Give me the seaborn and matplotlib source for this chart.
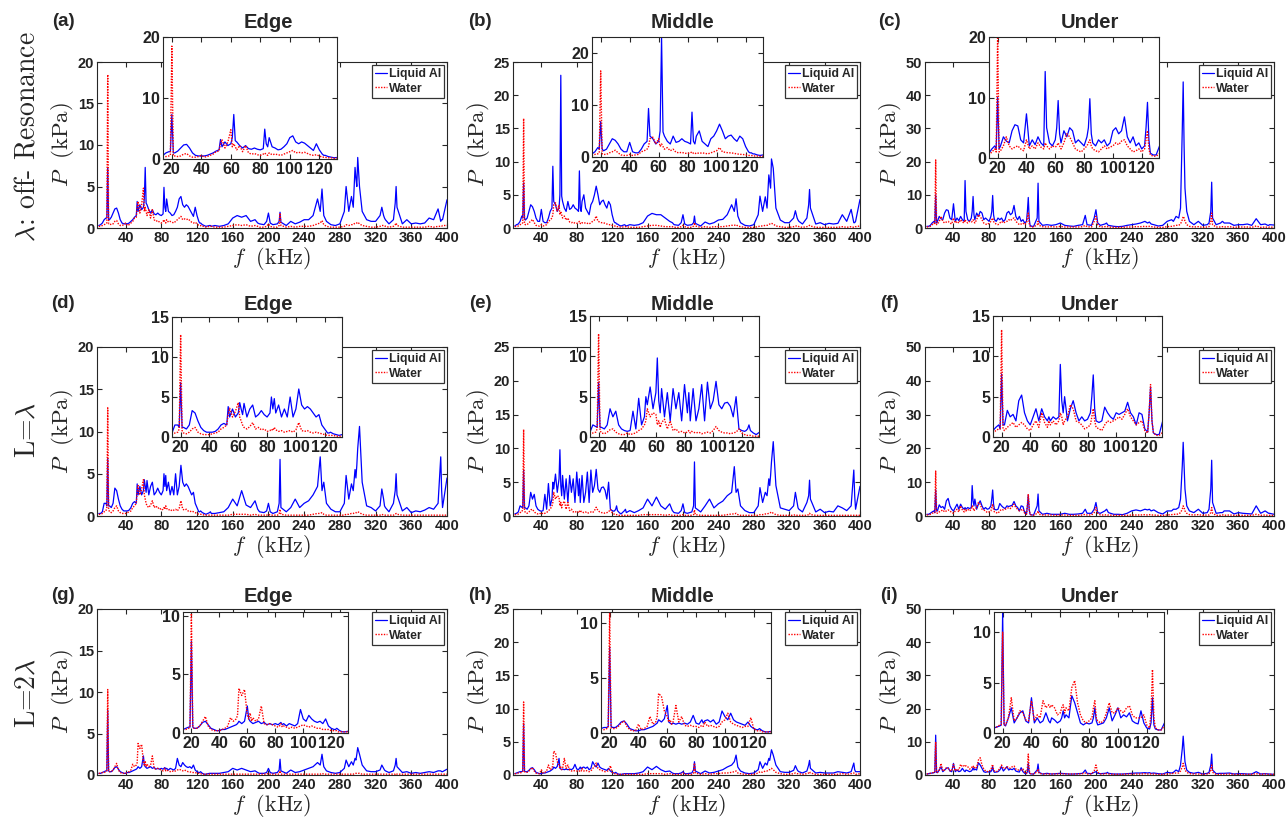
import matplotlib
matplotlib.use("Agg")
import matplotlib.pyplot as plt
import seaborn as sns

# frequency grid (kHz): dense where the inset zooms in, extra points at sharp peaks
FREQ = [10, 12, 14, 16, 18, 19, 20, 21, 22, 24,
        26, 28, 30, 32, 34, 36, 38, 40, 42, 44,
        46, 48, 50, 52, 53, 54, 56, 58, 60, 61,
        62, 63, 64, 66, 68, 70, 72, 74, 76, 78,
        80, 82, 83, 84, 85, 86, 88, 90, 92, 94,
        96, 98, 100, 102, 104, 106, 108, 110, 112, 114,
        116, 118, 120, 122, 123, 124, 125, 126, 128, 130,
        134, 135, 136, 140, 145, 150, 155, 160, 165, 170,
        175, 180, 185, 188, 190, 195, 198, 200, 202, 205,
        210, 212, 213, 214, 220, 225, 230, 235, 240, 245,
        250, 255, 258, 260, 262, 265, 270, 275, 280, 285,
        287, 290, 293, 295, 297, 298, 299, 300, 302, 305,
        310, 315, 320, 325, 327, 329, 330, 331, 335, 340,
        342, 343, 344, 350, 355, 360, 365, 370, 375, 380,
        385, 390, 393, 394, 395, 400]

# pressure amplitude (kPa), Liquid Al / Water, panels (a)..(i)
AL_A = [0.3, 0.4, 0.6, 1.0, 1.2, 1.2, 7.3, 1.0, 1.0, 1.3,
        1.8, 2.3, 2.4, 1.8, 1.0, 0.6, 0.5, 0.5, 0.5, 0.6,
        0.8, 1.0, 1.3, 1.5, 3.2, 2.0, 2.8, 2.2, 2.5, 3.5,
        7.3, 3.0, 2.8, 2.2, 1.8, 2.2, 1.7, 1.6, 1.8, 1.6,
        1.5, 1.7, 4.9, 2.5, 2.0, 3.5, 2.0, 1.8, 1.5, 1.6,
        2.0, 2.5, 3.5, 3.8, 2.8, 2.5, 2.8, 2.6, 2.2, 1.8,
        1.4, 2.5, 1.5, 0.8, 0.6, 0.6, 0.5, 0.4, 0.3, 0.2,
        0.3, 0.3, 0.2, 0.3, 0.2, 0.3, 0.5, 1.2, 1.5, 1.3,
        1.5, 0.8, 1.0, 0.6, 0.5, 0.4, 0.8, 1.8, 0.6, 0.4,
        0.5, 0.8, 1.9, 0.7, 0.3, 0.8, 0.5, 0.7, 1.0, 1.0,
        1.5, 3.5, 2.0, 4.7, 1.5, 0.8, 0.4, 0.3, 0.5, 2.0,
        5.0, 2.0, 3.8, 2.5, 7.3, 6.0, 5.0, 8.5, 5.0, 2.0,
        1.0, 0.8, 0.8, 1.5, 2.5, 1.5, 1.2, 1.0, 0.5, 1.0,
        3.0, 5.0, 2.5, 0.5, 1.0, 0.5, 0.6, 0.5, 0.6, 1.2,
        1.0, 2.3, 0.8, 1.0, 1.0, 3.4]
WATER_A = [0.2, 0.2, 0.3, 0.4, 0.5, 0.6, 18.5, 0.5, 0.5, 0.4,
           0.5, 0.8, 0.9, 0.5, 0.3, 0.3, 0.4, 0.6, 0.3, 0.4,
           0.6, 0.8, 1.2, 1.3, 2.5, 3.2, 1.8, 2.8, 4.8, 2.0,
           2.5, 2.0, 1.5, 2.2, 1.2, 2.2, 1.0, 0.8, 0.9, 0.7,
           0.6, 0.8, 1.0, 0.7, 0.6, 1.0, 0.7, 0.8, 0.7, 0.6,
           0.8, 1.0, 1.2, 1.4, 1.0, 1.1, 1.0, 1.1, 0.9, 0.7,
           0.6, 0.7, 0.5, 0.3, 0.3, 0.3, 0.2, 0.2, 0.2, 0.1,
           0.2, 0.2, 0.2, 0.1, 0.1, 0.1, 0.2, 0.3, 0.4, 0.3,
           0.4, 0.2, 0.3, 0.2, 0.1, 0.1, 0.2, 0.5, 0.2, 0.1,
           0.1, 0.3, 1.8, 0.3, 0.1, 0.2, 0.1, 0.2, 0.2, 0.2,
           0.3, 0.5, 0.6, 0.9, 0.4, 0.2, 0.1, 0.1, 0.1, 0.2,
           0.4, 0.3, 0.4, 0.4, 0.6, 0.6, 0.6, 0.7, 0.5, 0.3,
           0.2, 0.1, 0.1, 0.2, 0.3, 0.3, 0.3, 0.2, 0.1, 0.2,
           0.4, 0.6, 0.3, 0.1, 0.1, 0.1, 0.1, 0.1, 0.1, 0.2,
           0.1, 0.2, 0.2, 0.2, 0.3, 0.3]
AL_B = [0.3, 0.5, 0.6, 1.0, 1.8, 1.5, 6.8, 1.5, 1.2, 1.5,
        2.5, 3.5, 3.2, 2.5, 1.5, 1.0, 1.0, 2.8, 1.0, 0.8,
        0.8, 1.5, 2.5, 3.0, 9.3, 4.0, 3.5, 2.5, 3.0, 5.0,
        23.0, 4.8, 4.0, 3.0, 2.5, 4.0, 2.8, 3.0, 3.5, 3.0,
        2.8, 2.5, 8.6, 3.0, 2.5, 4.0, 5.0, 3.0, 2.5, 2.0,
        3.5, 4.0, 5.0, 6.3, 5.0, 3.5, 4.0, 4.2, 3.5, 3.0,
        4.0, 3.5, 2.0, 1.0, 0.8, 0.8, 0.6, 0.6, 0.4, 0.3,
        0.5, 0.4, 0.3, 0.5, 0.4, 0.5, 0.8, 1.8, 2.2, 2.0,
        2.0, 1.5, 1.0, 0.8, 0.5, 0.4, 0.8, 2.0, 0.6, 0.4,
        0.5, 0.8, 1.8, 0.7, 0.3, 0.9, 0.6, 0.8, 1.2, 1.3,
        2.0, 3.5, 2.5, 4.4, 1.8, 0.8, 0.4, 0.3, 0.5, 2.0,
        4.8, 2.5, 4.7, 3.0, 8.0, 7.0, 6.0, 10.4, 9.0, 3.0,
        1.2, 0.8, 0.8, 1.5, 2.6, 1.5, 1.2, 1.0, 0.6, 1.5,
        3.5, 5.8, 3.0, 0.6, 0.8, 0.5, 0.7, 0.6, 0.7, 2.0,
        1.0, 2.8, 0.8, 0.8, 1.0, 4.3]
WATER_B = [0.2, 0.3, 0.3, 0.5, 0.6, 0.8, 16.5, 0.6, 0.5, 0.5,
           0.8, 1.0, 1.3, 0.8, 0.4, 0.3, 0.3, 0.5, 0.3, 0.4,
           0.5, 1.0, 1.2, 1.5, 2.0, 3.5, 3.8, 2.5, 3.5, 2.0,
           2.5, 2.0, 1.5, 1.8, 1.2, 1.5, 0.9, 0.8, 0.9, 0.7,
           0.7, 0.8, 1.0, 0.7, 0.6, 0.8, 0.7, 0.8, 0.7, 0.6,
           0.8, 1.0, 1.2, 1.8, 1.0, 0.9, 0.8, 0.8, 0.7, 0.6,
           0.5, 0.5, 0.4, 0.3, 0.3, 0.3, 0.2, 0.2, 0.2, 0.1,
           0.2, 0.2, 0.2, 0.1, 0.1, 0.1, 0.2, 0.3, 0.4, 0.4,
           0.3, 0.2, 0.2, 0.2, 0.1, 0.1, 0.2, 0.4, 0.2, 0.1,
           0.1, 0.3, 0.8, 0.3, 0.1, 0.2, 0.1, 0.2, 0.2, 0.2,
           0.3, 0.4, 0.4, 0.5, 0.3, 0.2, 0.1, 0.1, 0.1, 0.2,
           0.3, 0.3, 0.4, 0.4, 0.5, 0.6, 0.6, 0.7, 0.6, 0.3,
           0.2, 0.1, 0.1, 0.2, 0.3, 0.3, 0.3, 0.2, 0.1, 0.2,
           0.3, 0.4, 0.3, 0.1, 0.1, 0.1, 0.1, 0.1, 0.1, 0.2,
           0.1, 0.2, 0.1, 0.1, 0.2, 0.3]
AL_C = [0.5, 0.5, 0.8, 1.5, 2.0, 1.5, 10.0, 1.5, 2.0, 3.5,
        2.8, 2.5, 4.5, 5.5, 5.3, 3.0, 2.5, 7.3, 2.0, 3.0,
        2.2, 3.5, 2.5, 2.0, 14.3, 5.0, 2.5, 2.0, 3.0, 5.0,
        9.5, 4.0, 2.5, 4.5, 3.5, 5.0, 4.5, 2.5, 3.0, 2.5,
        2.0, 3.5, 5.0, 9.8, 4.0, 2.5, 2.0, 3.0, 2.5, 3.0,
        2.0, 2.5, 4.5, 5.0, 4.0, 4.5, 6.8, 3.5, 2.5, 3.5,
        2.0, 2.5, 1.5, 2.0, 5.0, 9.2, 3.0, 0.8, 0.5, 0.5,
        3.0, 13.5, 2.0, 0.8, 1.0, 0.8, 1.0, 1.5, 0.8, 0.6,
        0.5, 0.8, 1.0, 3.8, 1.0, 0.8, 3.0, 5.5, 1.5, 0.8,
        1.2, 1.5, 1.0, 0.8, 0.5, 0.4, 0.5, 0.8, 1.0, 1.2,
        1.5, 2.0, 1.5, 1.8, 1.2, 1.0, 0.6, 0.8, 2.0, 2.5,
        2.0, 3.5, 3.0, 6.0, 30.0, 44.0, 25.0, 12.0, 5.0, 2.0,
        1.0, 2.0, 0.8, 1.0, 1.5, 5.0, 13.8, 3.0, 1.0, 1.5,
        2.0, 1.8, 1.5, 1.5, 0.8, 1.0, 1.0, 1.2, 0.8, 2.8,
        1.0, 1.2, 0.8, 0.8, 1.0, 0.9]
WATER_C = [0.3, 0.4, 0.5, 1.0, 1.5, 1.0, 20.5, 1.0, 1.2, 2.0,
           3.5, 2.0, 1.5, 1.8, 2.0, 1.5, 1.2, 3.0, 1.5, 2.0,
           1.5, 2.5, 1.8, 1.5, 2.5, 2.0, 1.5, 2.0, 1.8, 2.0,
           2.5, 2.0, 1.5, 2.5, 4.0, 3.5, 2.5, 1.5, 1.2, 1.0,
           1.5, 2.0, 2.5, 3.0, 2.0, 1.5, 1.2, 1.0, 1.5, 2.0,
           1.5, 1.8, 2.0, 2.5, 2.2, 2.8, 3.0, 2.0, 1.5, 1.0,
           1.2, 1.5, 1.0, 1.5, 3.0, 4.5, 1.5, 0.5, 0.3, 0.3,
           1.0, 2.0, 0.8, 0.4, 0.3, 0.4, 0.3, 0.5, 0.3, 0.3,
           0.3, 0.3, 0.4, 0.8, 0.4, 0.3, 2.0, 3.5, 1.0, 0.3,
           0.4, 0.5, 0.4, 0.3, 0.2, 0.2, 0.2, 0.3, 0.3, 0.4,
           0.4, 0.5, 0.4, 0.5, 0.4, 0.3, 0.2, 0.2, 0.4, 0.5,
           0.6, 0.8, 0.8, 1.2, 2.5, 3.5, 3.0, 2.0, 1.0, 0.5,
           0.3, 0.4, 0.2, 0.3, 0.4, 2.0, 4.5, 1.0, 0.3, 0.3,
           0.4, 0.4, 0.3, 0.4, 0.2, 0.3, 0.3, 0.3, 0.2, 0.6,
           0.2, 0.3, 0.2, 0.2, 0.3, 0.2]
AL_D = [0.3, 0.3, 0.5, 1.5, 1.5, 1.2, 6.8, 1.2, 1.2, 1.0,
        1.5, 3.3, 3.0, 2.0, 1.2, 0.8, 0.6, 0.6, 0.6, 0.7,
        1.0, 1.5, 1.7, 1.5, 3.8, 2.5, 3.5, 2.5, 3.0, 4.3,
        3.5, 2.8, 4.2, 2.5, 3.5, 4.0, 2.5, 2.8, 3.3, 2.8,
        2.5, 3.0, 5.0, 3.5, 4.8, 3.0, 4.0, 2.5, 3.5, 2.5,
        5.0, 2.5, 3.5, 6.0, 4.0, 3.5, 3.8, 3.5, 3.0, 2.5,
        2.8, 1.5, 1.0, 0.5, 0.5, 0.6, 0.5, 0.4, 0.3, 0.2,
        0.4, 0.5, 0.3, 0.3, 0.4, 0.5, 1.0, 2.0, 1.2, 3.0,
        1.3, 1.0, 1.8, 0.8, 0.5, 0.4, 0.6, 1.5, 0.5, 0.3,
        0.5, 1.5, 6.7, 1.0, 0.5, 1.0, 2.0, 1.0, 1.5, 1.8,
        2.5, 3.5, 7.0, 3.0, 4.0, 1.5, 0.8, 0.5, 0.5, 1.5,
        4.8, 2.0, 3.8, 3.0, 5.5, 4.5, 6.0, 8.0, 10.6, 4.0,
        1.2, 1.0, 0.6, 1.2, 3.2, 2.0, 1.2, 1.0, 0.5, 1.5,
        3.0, 5.0, 2.5, 0.6, 1.0, 0.4, 0.6, 0.5, 0.7, 1.0,
        0.8, 1.5, 7.0, 3.0, 1.0, 4.5]
WATER_D = [0.2, 0.2, 0.3, 0.5, 0.6, 1.0, 12.8, 0.8, 0.5, 0.4,
           0.6, 1.0, 1.2, 0.6, 0.4, 0.3, 0.3, 0.3, 0.4, 0.5,
           0.6, 1.0, 1.2, 1.5, 2.8, 3.6, 2.5, 3.2, 4.3, 2.5,
           2.0, 1.5, 1.2, 1.0, 1.3, 1.8, 1.0, 1.2, 0.9, 1.0,
           0.7, 0.8, 1.0, 0.8, 1.2, 0.9, 0.7, 0.8, 0.6, 0.7,
           0.8, 0.6, 0.9, 1.8, 0.8, 0.7, 0.8, 0.6, 0.5, 0.6,
           0.5, 0.4, 0.3, 0.2, 0.2, 0.2, 0.2, 0.2, 0.1, 0.1,
           0.1, 0.1, 0.1, 0.1, 0.1, 0.1, 0.1, 0.2, 0.2, 0.2,
           0.2, 0.1, 0.2, 0.1, 0.1, 0.1, 0.1, 0.2, 0.1, 0.1,
           0.1, 0.2, 0.8, 0.2, 0.1, 0.1, 0.1, 0.1, 0.1, 0.1,
           0.2, 0.3, 0.3, 0.4, 0.2, 0.1, 0.1, 0.1, 0.1, 0.1,
           0.2, 0.2, 0.3, 0.3, 0.4, 0.4, 0.4, 0.5, 0.4, 0.2,
           0.1, 0.1, 0.1, 0.1, 0.2, 0.1, 0.1, 0.1, 0.1, 0.1,
           0.2, 0.3, 0.2, 0.1, 0.1, 0.1, 0.1, 0.1, 0.1, 0.1,
           0.1, 0.1, 0.1, 0.1, 0.1, 0.1]
AL_E = [0.3, 0.4, 0.6, 1.5, 1.3, 1.2, 6.8, 1.2, 1.2, 1.0,
        1.5, 3.5, 2.5, 3.2, 1.5, 1.0, 0.8, 0.7, 0.8, 3.2,
        1.0, 4.8, 1.5, 2.5, 5.0, 4.0, 6.2, 3.5, 5.5, 9.8,
        4.5, 3.0, 6.0, 2.5, 5.5, 2.0, 6.0, 3.5, 5.5, 2.0,
        6.5, 3.0, 5.5, 2.0, 4.0, 6.0, 2.0, 3.5, 6.5, 2.0,
        6.8, 3.5, 4.5, 6.9, 4.0, 3.5, 4.2, 4.3, 3.8, 2.5,
        5.0, 1.0, 0.8, 0.7, 0.8, 1.0, 1.5, 0.8, 0.5, 0.3,
        0.8, 1.0, 0.5, 0.8, 0.5, 0.8, 1.2, 2.5, 1.5, 2.8,
        1.5, 1.0, 1.8, 0.8, 0.5, 0.4, 0.8, 1.8, 0.5, 0.4,
        0.6, 1.5, 8.0, 1.2, 0.6, 1.5, 2.5, 1.2, 1.8, 2.2,
        3.0, 3.5, 7.3, 3.5, 4.0, 1.5, 0.8, 0.5, 0.5, 1.5,
        4.2, 2.0, 3.5, 3.0, 5.5, 4.5, 6.0, 8.0, 11.0, 4.5,
        1.2, 1.0, 0.8, 1.5, 3.5, 2.0, 1.2, 1.0, 0.6, 2.0,
        3.0, 5.3, 2.5, 0.6, 1.0, 0.5, 0.7, 0.6, 1.5, 1.2,
        0.8, 1.5, 6.8, 3.0, 1.0, 4.4]
WATER_E = [0.2, 0.2, 0.3, 0.5, 0.6, 1.0, 12.8, 0.8, 0.5, 0.4,
           0.6, 0.9, 1.0, 0.6, 0.4, 0.3, 0.3, 0.5, 0.3, 0.4,
           0.5, 0.8, 1.0, 1.5, 2.0, 3.5, 2.5, 3.0, 2.8, 1.5,
           2.0, 1.2, 1.8, 2.2, 1.0, 2.0, 0.8, 1.0, 0.6, 0.7,
           0.5, 0.6, 0.8, 0.5, 0.7, 0.6, 0.5, 0.6, 0.4, 0.5,
           0.6, 0.5, 0.8, 1.3, 0.8, 0.6, 0.5, 0.5, 0.4, 0.5,
           0.6, 1.0, 0.5, 0.3, 0.2, 0.2, 0.2, 0.2, 0.1, 0.1,
           0.1, 0.1, 0.1, 0.1, 0.1, 0.1, 0.2, 0.2, 0.2, 0.2,
           0.2, 0.1, 0.2, 0.1, 0.1, 0.1, 0.1, 0.2, 0.1, 0.1,
           0.1, 0.2, 0.9, 0.2, 0.1, 0.1, 0.1, 0.1, 0.1, 0.1,
           0.2, 0.3, 0.3, 0.4, 0.2, 0.1, 0.1, 0.1, 0.1, 0.1,
           0.2, 0.2, 0.3, 0.3, 0.4, 0.5, 0.5, 0.6, 0.4, 0.2,
           0.1, 0.1, 0.1, 0.1, 0.2, 0.1, 0.1, 0.1, 0.1, 0.1,
           0.2, 0.4, 0.2, 0.1, 0.1, 0.1, 0.1, 0.1, 0.1, 0.1,
           0.1, 0.1, 0.1, 0.1, 0.1, 0.1]
AL_F = [0.5, 0.5, 0.8, 1.2, 1.5, 1.0, 7.8, 1.5, 1.5, 3.3,
        2.5, 2.8, 2.0, 4.5, 5.2, 3.0, 2.0, 1.5, 2.5, 3.5,
        2.0, 3.5, 2.5, 2.0, 2.5, 2.0, 2.5, 2.2, 2.5, 9.0,
        4.5, 3.0, 5.0, 2.0, 3.5, 4.5, 3.0, 2.0, 2.5, 2.0,
        2.2, 3.0, 5.0, 7.7, 3.5, 2.0, 1.8, 2.0, 3.7, 3.0,
        2.5, 2.2, 3.0, 2.8, 3.0, 3.2, 4.3, 3.0, 2.5, 1.5,
        3.0, 2.8, 1.0, 0.6, 3.0, 6.2, 2.0, 0.5, 0.3, 0.3,
        3.0, 6.5, 1.5, 0.5, 0.8, 0.5, 0.5, 0.5, 0.8, 0.5,
        0.5, 0.6, 0.8, 2.0, 0.8, 0.8, 2.0, 4.0, 1.0, 0.8,
        1.5, 2.0, 1.5, 1.0, 0.5, 0.5, 0.4, 0.8, 1.5, 1.8,
        1.5, 2.0, 1.8, 2.0, 1.5, 1.8, 1.0, 0.6, 1.5, 1.5,
        2.0, 2.0, 2.5, 5.0, 15.0, 21.8, 15.0, 8.0, 3.0, 1.5,
        1.0, 2.0, 0.8, 1.0, 2.0, 8.0, 16.5, 4.0, 0.8, 1.0,
        1.0, 1.2, 1.5, 1.5, 0.6, 1.0, 0.8, 0.7, 0.6, 3.0,
        0.8, 1.5, 1.0, 0.8, 0.8, 0.5]
WATER_F = [0.3, 0.4, 0.5, 0.8, 1.0, 1.0, 13.3, 1.0, 0.8, 1.2,
           1.5, 1.8, 1.2, 1.5, 1.8, 1.5, 1.0, 0.8, 1.5, 2.0,
           1.2, 3.0, 1.8, 1.2, 2.0, 1.5, 2.0, 1.5, 2.0, 3.0,
           2.5, 1.5, 2.0, 2.5, 4.0, 3.5, 2.0, 1.8, 1.5, 1.0,
           1.2, 1.5, 2.5, 3.5, 2.0, 1.2, 1.0, 0.8, 1.5, 2.0,
           1.8, 2.0, 2.2, 2.5, 2.2, 2.8, 3.5, 2.5, 2.0, 1.5,
           1.8, 2.0, 0.8, 0.5, 3.0, 6.5, 2.0, 0.5, 0.2, 0.2,
           0.8, 1.5, 0.5, 0.3, 0.3, 0.3, 0.2, 0.3, 0.3, 0.2,
           0.2, 0.2, 0.3, 0.5, 0.3, 0.3, 1.0, 2.5, 0.8, 0.3,
           0.3, 0.4, 0.3, 0.3, 0.2, 0.2, 0.2, 0.2, 0.3, 0.3,
           0.3, 0.4, 0.3, 0.4, 0.3, 0.3, 0.2, 0.2, 0.3, 0.4,
           0.5, 0.5, 0.6, 1.0, 2.0, 3.0, 2.5, 1.5, 0.8, 0.4,
           0.3, 0.4, 0.2, 0.3, 0.3, 1.0, 2.5, 0.8, 0.2, 0.2,
           0.3, 0.3, 0.2, 0.3, 0.2, 0.2, 0.2, 0.2, 0.2, 0.5,
           0.2, 0.3, 0.2, 0.2, 0.2, 0.2]
AL_G = [0.2, 0.2, 0.3, 0.4, 0.5, 0.5, 7.8, 0.5, 0.4, 0.4,
        0.6, 0.9, 1.0, 0.7, 0.4, 0.3, 0.2, 0.2, 0.3, 0.3,
        0.4, 0.5, 0.6, 0.7, 0.8, 1.0, 0.8, 1.0, 2.3, 1.2,
        1.0, 0.9, 0.8, 0.9, 1.0, 0.8, 0.9, 0.7, 0.8, 0.7,
        0.8, 0.7, 0.8, 0.9, 0.7, 0.8, 0.6, 0.8, 0.7, 0.6,
        0.8, 2.0, 1.2, 1.0, 1.5, 1.2, 1.0, 0.9, 1.0, 0.8,
        1.2, 0.6, 0.4, 0.3, 0.3, 0.4, 0.3, 0.2, 0.1, 0.1,
        0.2, 0.2, 0.2, 0.2, 0.2, 0.3, 0.4, 0.8, 0.6, 0.8,
        0.6, 0.4, 0.5, 0.3, 0.2, 0.2, 0.3, 0.8, 0.3, 0.2,
        0.3, 0.6, 1.9, 0.5, 0.2, 0.6, 0.3, 0.4, 0.6, 0.8,
        1.0, 1.5, 1.2, 2.5, 1.0, 0.5, 0.3, 0.2, 0.3, 0.8,
        1.8, 1.0, 1.6, 1.2, 2.0, 1.8, 2.5, 3.3, 2.5, 1.2,
        0.5, 0.4, 0.4, 0.6, 1.2, 0.8, 0.6, 0.5, 0.3, 0.5,
        1.2, 2.0, 1.0, 0.3, 0.4, 0.2, 0.3, 0.2, 0.3, 0.4,
        0.3, 0.5, 0.5, 0.4, 0.4, 0.7]
WATER_G = [0.2, 0.2, 0.3, 0.3, 0.4, 0.5, 10.3, 0.5, 0.4, 0.4,
           0.6, 1.0, 1.4, 0.6, 0.3, 0.2, 0.2, 0.2, 0.3, 0.4,
           0.6, 1.3, 1.0, 1.2, 1.5, 3.8, 3.2, 3.7, 1.5, 1.2,
           1.7, 1.0, 1.3, 1.0, 1.2, 2.3, 0.8, 0.7, 0.8, 0.7,
           0.6, 0.5, 0.6, 0.8, 0.5, 0.6, 0.5, 0.4, 0.5, 0.4,
           0.5, 0.6, 0.7, 0.6, 0.5, 0.6, 0.5, 0.4, 0.4, 0.3,
           0.3, 0.3, 0.2, 0.2, 0.2, 0.2, 0.1, 0.1, 0.1, 0.1,
           0.1, 0.1, 0.1, 0.1, 0.1, 0.1, 0.1, 0.1, 0.1, 0.1,
           0.1, 0.1, 0.1, 0.1, 0.1, 0.1, 0.1, 0.2, 0.1, 0.1,
           0.1, 0.1, 0.5, 0.1, 0.1, 0.1, 0.1, 0.1, 0.1, 0.1,
           0.1, 0.1, 0.1, 0.2, 0.1, 0.1, 0.1, 0.1, 0.1, 0.1,
           0.1, 0.1, 0.1, 0.1, 0.2, 0.2, 0.2, 0.2, 0.2, 0.1,
           0.1, 0.1, 0.1, 0.1, 0.1, 0.1, 0.1, 0.1, 0.1, 0.1,
           0.1, 0.2, 0.1, 0.1, 0.1, 0.1, 0.1, 0.1, 0.1, 0.1,
           0.1, 0.1, 0.1, 0.1, 0.1, 0.1]
AL_H = [0.2, 0.3, 0.4, 0.5, 0.5, 0.6, 7.8, 0.6, 0.5, 0.5,
        0.7, 1.0, 1.1, 0.8, 0.4, 0.3, 0.2, 0.2, 0.3, 0.3,
        0.4, 0.5, 0.6, 0.8, 0.9, 1.2, 1.0, 1.3, 2.5, 1.0,
        0.9, 0.8, 0.9, 0.8, 0.9, 0.8, 0.9, 0.8, 1.0, 1.6,
        0.9, 0.8, 1.0, 1.2, 0.9, 1.1, 1.2, 1.0, 1.2, 0.8,
        1.0, 2.0, 1.5, 1.2, 1.8, 1.2, 1.0, 0.9, 0.8, 0.7,
        1.0, 0.6, 0.4, 0.3, 0.3, 0.4, 0.3, 0.2, 0.1, 0.1,
        0.2, 0.2, 0.2, 0.2, 0.2, 0.3, 0.5, 1.2, 0.8, 1.3,
        0.8, 0.5, 0.6, 0.3, 0.2, 0.2, 0.3, 0.5, 0.2, 0.2,
        0.3, 0.8, 2.0, 0.6, 0.2, 0.6, 0.3, 0.4, 0.6, 0.8,
        1.2, 1.5, 2.0, 3.0, 1.2, 0.6, 0.3, 0.2, 0.3, 0.8,
        2.0, 1.0, 1.8, 1.5, 2.5, 2.2, 3.0, 3.8, 3.0, 1.5,
        0.5, 0.4, 0.4, 0.7, 1.4, 0.8, 0.6, 0.5, 0.3, 0.6,
        1.5, 2.2, 1.0, 0.3, 0.4, 0.3, 0.3, 0.3, 0.5, 0.4,
        0.3, 0.5, 1.8, 0.8, 0.5, 0.5]
WATER_H = [0.2, 0.2, 0.3, 0.3, 0.4, 0.5, 11.0, 0.5, 0.4, 0.4,
           0.6, 0.9, 1.1, 0.6, 0.3, 0.2, 0.2, 0.8, 0.3, 0.4,
           0.6, 1.5, 0.8, 1.0, 1.5, 3.6, 3.3, 2.0, 1.5, 1.0,
           1.2, 0.8, 1.0, 2.5, 1.0, 1.5, 0.7, 0.6, 0.7, 0.6,
           0.6, 0.5, 0.6, 0.7, 0.6, 1.0, 0.6, 0.7, 0.6, 0.5,
           0.6, 1.0, 1.2, 1.8, 1.0, 0.8, 0.7, 0.6, 0.5, 0.6,
           0.6, 1.4, 0.4, 0.2, 0.2, 0.2, 0.2, 0.1, 0.1, 0.1,
           0.1, 0.1, 0.1, 0.1, 0.1, 0.1, 0.1, 0.2, 0.2, 0.2,
           0.2, 0.1, 0.2, 0.1, 0.1, 0.1, 0.1, 0.3, 0.1, 0.1,
           0.1, 0.3, 1.8, 0.3, 0.1, 0.2, 0.1, 0.2, 0.2, 0.3,
           0.3, 0.4, 0.5, 0.6, 0.3, 0.2, 0.1, 0.1, 0.1, 0.3,
           0.5, 0.4, 0.6, 0.6, 0.8, 0.8, 0.9, 1.0, 0.8, 0.4,
           0.2, 0.1, 0.1, 0.2, 0.3, 0.2, 0.2, 0.2, 0.1, 0.2,
           0.3, 0.5, 0.3, 0.1, 0.1, 0.1, 0.1, 0.1, 0.1, 0.2,
           0.1, 0.2, 0.3, 0.2, 0.1, 0.2]
AL_I = [0.3, 0.4, 0.5, 0.6, 0.7, 0.8, 12.0, 0.8, 0.7, 1.5,
        2.5, 1.0, 1.5, 2.0, 2.2, 1.2, 1.0, 3.5, 1.0, 1.5,
        1.0, 1.2, 2.0, 1.2, 1.0, 1.5, 1.3, 1.0, 1.2, 1.5,
        2.2, 1.5, 1.8, 1.5, 3.7, 3.0, 2.0, 1.0, 0.8, 1.0,
        0.9, 1.0, 1.5, 2.5, 1.2, 0.8, 0.9, 1.0, 1.5, 2.5,
        1.2, 1.8, 2.5, 1.5, 1.8, 1.6, 2.0, 1.2, 1.0, 0.9,
        2.2, 1.0, 0.5, 0.4, 1.0, 3.5, 0.8, 0.4, 0.3, 0.3,
        1.5, 3.3, 0.8, 0.3, 0.5, 0.3, 0.4, 0.5, 0.4, 0.3,
        0.3, 0.4, 0.5, 1.5, 0.5, 0.4, 0.8, 1.0, 0.5, 0.4,
        0.5, 0.6, 0.8, 0.5, 0.3, 0.3, 0.3, 0.4, 0.5, 0.6,
        0.6, 0.7, 0.6, 0.7, 0.5, 0.6, 0.4, 0.3, 0.8, 0.6,
        0.8, 1.5, 1.0, 3.0, 8.0, 11.7, 8.0, 4.0, 1.5, 0.8,
        0.5, 0.8, 0.3, 0.5, 0.8, 3.0, 6.3, 1.5, 0.4, 0.5,
        0.5, 0.5, 0.5, 0.6, 0.3, 0.4, 0.4, 0.3, 0.3, 1.0,
        0.3, 0.4, 0.3, 0.3, 0.3, 0.2]
WATER_I = [0.3, 0.4, 0.5, 0.6, 0.8, 0.8, 10.0, 0.8, 0.8, 1.5,
           3.5, 1.2, 1.5, 2.2, 2.0, 1.3, 1.2, 3.2, 1.2, 1.8,
           1.5, 3.2, 2.5, 2.8, 2.5, 2.8, 2.5, 1.8, 2.0, 2.5,
           2.8, 2.0, 2.5, 2.2, 4.5, 5.2, 3.0, 1.8, 1.2, 1.0,
           1.2, 1.5, 2.5, 3.2, 1.5, 1.2, 1.0, 1.2, 2.0, 3.0,
           2.0, 2.0, 2.5, 2.2, 2.0, 2.5, 2.7, 1.8, 1.5, 1.5,
           1.5, 1.8, 0.8, 0.5, 2.0, 6.3, 1.5, 0.5, 0.3, 0.3,
           1.0, 1.8, 0.5, 0.3, 0.3, 0.3, 0.3, 0.4, 0.3, 0.3,
           0.3, 0.3, 0.4, 0.6, 0.3, 0.3, 1.2, 3.0, 0.8, 0.3,
           0.3, 0.4, 0.4, 0.3, 0.2, 0.2, 0.2, 0.3, 0.3, 0.3,
           0.3, 0.4, 0.3, 0.4, 0.3, 0.3, 0.2, 0.2, 0.3, 0.4,
           0.5, 0.6, 0.6, 1.2, 2.5, 3.5, 2.5, 1.5, 0.8, 0.4,
           0.3, 0.3, 0.2, 0.3, 0.3, 1.5, 3.0, 0.8, 0.2, 0.2,
           0.3, 0.3, 0.2, 0.3, 0.2, 0.2, 0.2, 0.2, 0.2, 0.4,
           0.2, 0.3, 0.2, 0.2, 0.2, 0.2]

LIQUID = [[AL_A, AL_B, AL_C], [AL_D, AL_E, AL_F], [AL_G, AL_H, AL_I]]
WATER = [[WATER_A, WATER_B, WATER_C], [WATER_D, WATER_E, WATER_F], [WATER_G, WATER_H, WATER_I]]
LETTERS = [["(a)", "(b)", "(c)"], ["(d)", "(e)", "(f)"], ["(g)", "(h)", "(i)"]]
TITLES = ["Edge", "Middle", "Under"]
ROW_LABELS = [r"$\lambda$: off- Resonance", r"L=$\lambda$", r"L=2$\lambda$"]
MAIN_YMAX = [20, 25, 50]
MAIN_YTICKS = [[0, 5, 10, 15, 20], [0, 5, 10, 15, 20, 25], [0, 10, 20, 30, 40, 50]]
MAIN_XTICKS = [40, 80, 120, 160, 200, 240, 280, 320, 360, 400]
INSET_XTICKS = [20, 40, 60, 80, 100, 120]
INSET_YMAX = [[20, 23, 20], [15, 15, 15], [10.3, 11, 12]]
INSET_YTICKS = [[0, 10, 20], [0, 5, 10, 15], [0, 5, 10]]

for row in LIQUID + WATER:
    for s in row:
        if len(s) != len(FREQ):
            raise ValueError(f"length {len(s)} != {len(FREQ)}")

# layout in pixels (left, top, right, bottom)
MAIN_COLS = [(97, 447), (513, 860), (925, 1274)]
MAIN_ROWS = [(62, 228), (347, 516), (609, 775)]
INSETS = [[(163, 37, 337, 159), (592, 37, 763, 157), (989, 37, 1159, 158)],
          [(172, 317, 342, 437), (590, 316, 759, 437), (993, 316, 1162, 437)],
          [(183, 612, 348, 733), (601, 612, 771, 733), (994, 612, 1164, 733)]]
TITLE_X = [268, 682, 1090]
LETTER_X = [63, 480, 889]
HEAD_Y = [22, 304, 596]
ROW_LABEL_Y = [137, 430, 693]

sns.set_theme(style="ticks")
plt.rcParams["font.family"] = ["Liberation Sans", "DejaVu Sans"]
plt.rcParams["font.weight"] = "bold"
plt.rcParams["mathtext.fontset"] = "cm"

W, H = 1287, 823
fig = plt.figure(figsize=(W / 100, H / 100), dpi=100)
fig.patch.set_facecolor("white")
BLUE, RED, AXC = "#0000FF", "#FF0000", "#262626"


def px_axes(l, t, r, b, z=1):
    return fig.add_axes([l / W, 1 - b / H, (r - l) / W, (b - t) / H], zorder=z)


def style(ax, size):
    for sp in ax.spines.values():
        sp.set_visible(True); sp.set_color(AXC); sp.set_linewidth(0.8)
    ax.tick_params(direction="in", top=True, right=True, length=3.5, width=0.8,
                   labelsize=size, colors=AXC, labelcolor="#222222", pad=2)
    ax.set_facecolor("white")
    ax.grid(False)


def draw(ax, al, wa, legend):
    sns.lineplot(x=FREQ, y=al, ax=ax, color=BLUE, linewidth=0.9, errorbar=None,
                 label="Liquid Al" if legend else None, legend=False)
    sns.lineplot(x=FREQ, y=wa, ax=ax, color=RED, linewidth=1.0, errorbar=None,
                 linestyle=(0, (1, 1)), label="Water" if legend else None, legend=False)


for r in range(3):
    t, b = MAIN_ROWS[r]
    for c in range(3):
        l, rr = MAIN_COLS[c]
        ax = px_axes(l, t, rr, b, z=1)
        draw(ax, LIQUID[r][c], WATER[r][c], True)
        ax.set_xlim(8, 400); ax.set_ylim(0, MAIN_YMAX[c])
        ax.set_xticks(MAIN_XTICKS); ax.set_yticks(MAIN_YTICKS[c])
        style(ax, 10.5)
        ax.set_xlabel(r"$f\ \ (\mathrm{kHz})$", fontsize=16, labelpad=0)
        ax.set_ylabel(r"$P\ \ (\mathrm{kPa})$", fontsize=16.5, labelpad=1)
        leg = ax.legend(loc="upper right", fontsize=8.8, frameon=True, fancybox=False,
                        edgecolor="#333333", framealpha=1, borderaxespad=0.25,
                        handlelength=1.0, handletextpad=0.15, borderpad=0.25,
                        labelspacing=0.2)
        leg.get_frame().set_linewidth(0.9)

        il, it, ir, ib = INSETS[r][c]
        axi = px_axes(il, it, ir, ib, z=3)
        draw(axi, LIQUID[r][c], WATER[r][c], False)
        axi.set_xlim(14, 132); axi.set_ylim(0, INSET_YMAX[r][c])
        axi.set_xticks(INSET_XTICKS); axi.set_yticks(INSET_YTICKS[r])
        style(axi, 11.5)
        axi.set_xlabel(""); axi.set_ylabel("")

        fig.text(TITLE_X[c] / W, 1 - HEAD_Y[r] / H, TITLES[c], ha="center", va="center",
                 fontsize=14.5, fontweight="bold")
        fig.text(LETTER_X[c] / W, 1 - HEAD_Y[r] / H, LETTERS[r][c], ha="center", va="center",
                 fontsize=13.5, fontweight="bold")
    fig.text(27 / W, 1 - ROW_LABEL_Y[r] / H, ROW_LABELS[r], rotation=90, ha="center",
             va="center", fontsize=20, family="cmr10", fontweight="normal")

fig.savefig("out.png", dpi=100, facecolor="white")
